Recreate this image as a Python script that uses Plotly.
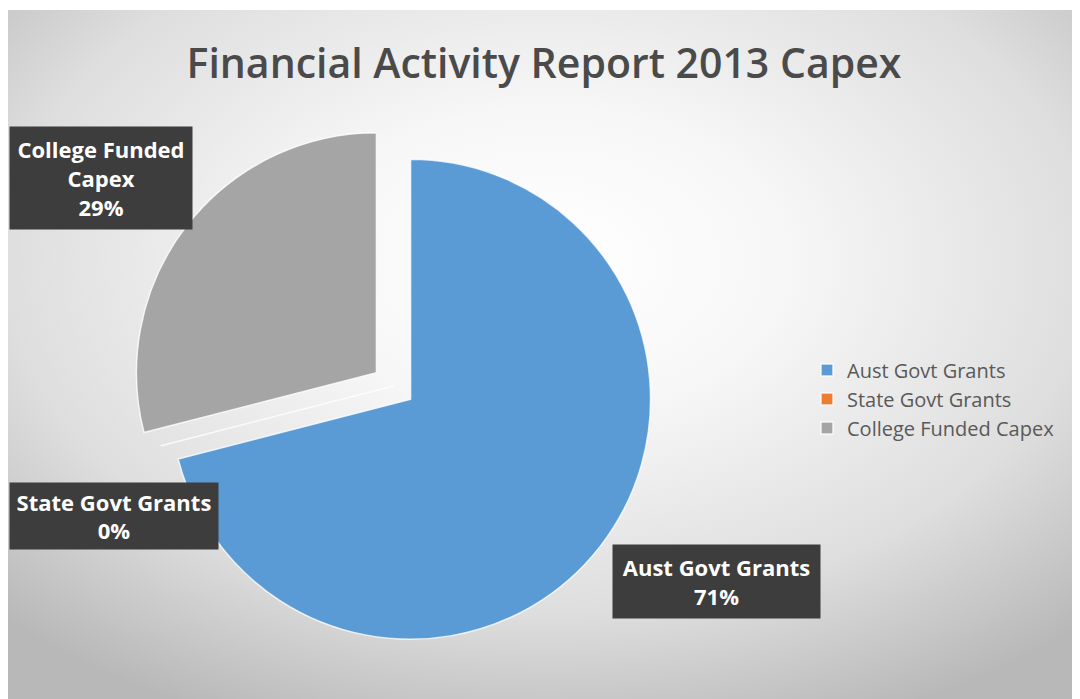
import base64
import plotly.graph_objects as go

# ---- data ----
categories = ["Aust Govt Grants", "State Govt Grants", "College Funded Capex"]
values = [71, 0, 29]
colors = ["#5B9BD5", "#ED7D31", "#A5A5A5"]
pulls = [0.09, 0.0, 0.09]
box_labels = ["Aust Govt Grants", "State Govt Grants", "College Funded<br>Capex"]
title_text = "Financial Activity Report 2013 Capex"

W, H = 1080, 699
OX, OY = 8, 8   # page body margin offset

total = sum(values)
pcts = [round(v * 100 / total) for v in values]

# background radial gradient (Excel-like)
svg = f'''<svg xmlns="http://www.w3.org/2000/svg" width="{W}" height="{H}" viewBox="0 0 {W} {H}" preserveAspectRatio="none">
<defs><radialGradient id="g" cx="0.5" cy="0.36" r="0.72" gradientUnits="objectBoundingBox">
<stop offset="0" stop-color="#ffffff"/><stop offset="0.3" stop-color="#f7f7f7"/>
<stop offset="0.7" stop-color="#dedede"/><stop offset="1" stop-color="#b8b8b8"/></radialGradient></defs>
<rect x="0" y="0" width="{W}" height="{H}" fill="url(#g)"/></svg>'''
bg_src = "data:image/svg+xml;base64," + base64.b64encode(svg.encode()).decode()


def px(x):
    return (x - OX) / W


def py(y):
    return 1 - (y - OY) / H


# pie placement (page pixels): centre and outer half-size incl. pull
pcx, pcy, phalf = 392.5 - 7 + OX, 387.5 - 9.5 + OY, 261.6

fig = go.Figure()
fig.add_trace(go.Pie(
    labels=categories,
    values=values,
    sort=False,
    direction="clockwise",
    rotation=0,
    pull=pulls,
    marker=dict(colors=colors, line=dict(color="rgba(255,255,255,0.8)", width=1.5)),
    textinfo="none",
    hoverinfo="label+percent",
    domain=dict(x=[px(pcx - phalf), px(pcx + phalf)], y=[py(pcy + phalf), py(pcy - phalf)]),
))

# label box placements (centre px, box size px)
boxes = [
    (716.5, 581.5, 199, 65),   # Aust
    (114, 516, 200, 58),       # State
    (101, 178, 174, 94),       # College
]
annotations = []
for (cx, cy, bw, bh), lab, p in zip(boxes, box_labels, pcts):
    annotations.append(dict(
        x=px(cx), y=py(cy), xref="paper", yref="paper",
        xanchor="center", yanchor="middle",
        text=f"<b>{lab}<br>{p}%</b>", showarrow=False,
        font=dict(family="Open Sans", size=22, color="#ffffff"),
        bgcolor="#3d3d3d", borderpad=4, width=bw, height=bh, align="center",
    ))

fig.update_layout(
    width=W, height=H,
    margin=dict(l=0, r=0, t=0, b=0),
    paper_bgcolor="#ffffff",
    plot_bgcolor="rgba(0,0,0,0)",
    images=[dict(source=bg_src, xref="paper", yref="paper",
                 x=0, y=1 - 2 / H, sizex=1, sizey=1 - 2 / H,
                 xanchor="left", yanchor="top", sizing="stretch", layer="below")],
    title=dict(text=title_text, x=px(544), xanchor="center", y=py(64), yanchor="middle",
               font=dict(family="Open Sans", size=41, color="#4a4a4a", weight=600)),
    legend=dict(x=px(807), y=py(399), xanchor="left", yanchor="middle",
                font=dict(family="Open Sans", size=20, color="#595959"),
                bgcolor="rgba(0,0,0,0)", itemwidth=30),
    annotations=annotations,
    showlegend=True,
)

fig.write_html("out.html")
